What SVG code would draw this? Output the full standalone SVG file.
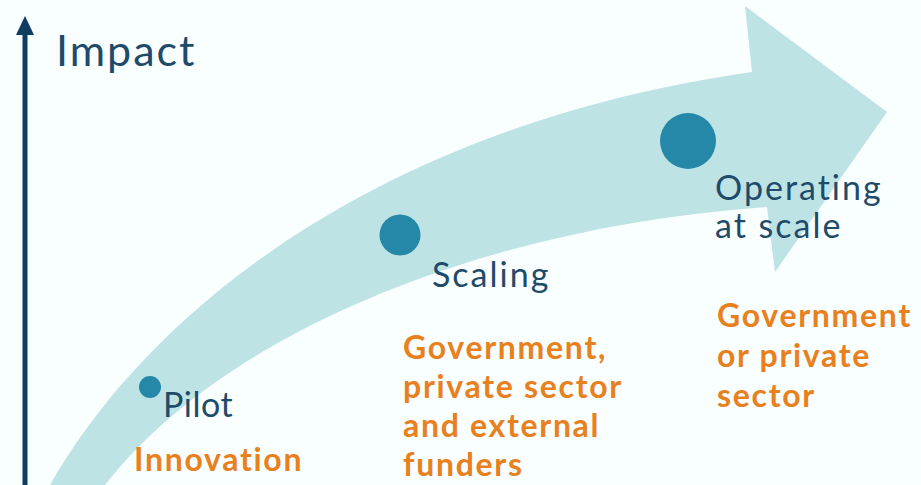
<svg xmlns="http://www.w3.org/2000/svg" width="921" height="485" viewBox="0 0 921 485">
<style>
.lbl{font-family:Lato,"Open Sans","Liberation Sans",sans-serif;fill:#1f4b6b;font-size:34px;letter-spacing:2px}
.fund{font-family:Lato,"Open Sans","Liberation Sans",sans-serif;fill:#e8801e;font-size:32px;font-weight:bold;letter-spacing:1.7px}
.dot{fill:#2688a8}
</style>
<rect width="921" height="485" fill="#f9fefe"/>
<g id="axis">
<line x1="25" y1="485" x2="25" y2="30" stroke="#0e3d61" stroke-width="5"/>
<polygon points="25,16 34,35 16,35" fill="#0e3d61"/>
<text x="56" y="66" class="lbl" style="font-size:43px">Impact</text>
</g>
<g id="band">
<path d="M50,485 C150,310 380,125 752,72 L745,6 L887,112 L775,272 L767,207 C500,225 230,325 105,485 Z" fill="#bde3e5"/>
</g>
<g id="pilot">
<circle class="dot" cx="150" cy="387" r="11"/>
<text x="163" y="417" class="lbl" style="letter-spacing:0.5px">Pilot</text>
<text x="134" y="471" class="fund">Innovation</text>
</g>
<g id="scaling">
<circle class="dot" cx="400" cy="235" r="20.5"/>
<text x="432" y="287" class="lbl">Scaling</text>
<text class="fund"><tspan x="403" y="359">Government,</tspan><tspan x="403" y="398">private sector</tspan><tspan x="403" y="437">and external</tspan><tspan x="403" y="476">funders</tspan></text>
</g>
<g id="operating">
<circle class="dot" cx="688" cy="141" r="28"/>
<text class="lbl"><tspan x="715" y="200">Operating</tspan><tspan x="715" y="238">at scale</tspan></text>
<text class="fund"><tspan x="717" y="327">Government</tspan><tspan x="717" y="367">or private</tspan><tspan x="717" y="407">sector</tspan></text>
</g>
</svg>
